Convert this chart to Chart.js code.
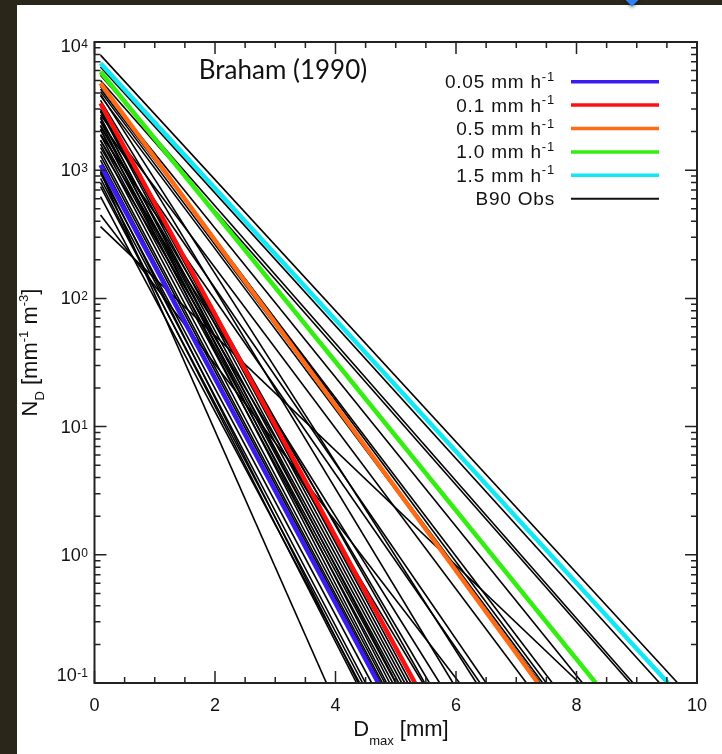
<!DOCTYPE html>
<html>
<head>
<meta charset="utf-8">
<script src="https://cdn.jsdelivr.net/npm/chart.js@4.4.2/dist/chart.umd.min.js"></script>
<style>
  html, body { margin: 0; padding: 0; background: #2a2619; }
  body { width: 722px; height: 754px; position: relative; overflow: hidden; }
  #panel { position: absolute; left: 17px; top: 5px; width: 705px; height: 749px; background: #fff; }
  #pin { position: absolute; left: 626px; top: -8px; width: 12px; height: 12px; background: #2f7ff0;
         transform: rotate(45deg); box-shadow: 1px 1px 3px rgba(0,0,0,0.5); }
</style>
</head>
<body>
<div id="panel"><canvas id="chart" width="705" height="749"></canvas></div>
<div id="pin"></div>
<script>
// model curves (rain rate), N at D = 0.1 mm and D where N falls to 0.1
const rateLabels = ['0.05', '0.1', '0.5', '1.0', '1.5'];
const rateColors = ['#3a1cf0', '#ff1010', '#ff6a14', '#33ee11', '#11e8f4'];
const rateN0 = [1100, 3330, 4770, 5860, 6820];
const rateDend = [4.71, 5.32, 7.36, 8.32, 9.52];

// Braham (1990) observed fits
const obsN0 = [7900, 6400, 5500, 5000, 4500, 4300, 4600, 4100, 3800, 2700,
               2400, 1900, 363, 447, 2900, 3000, 3200, 2860, 2540, 2250,
               2060, 1880, 1720, 2400, 2100, 1600, 1400, 1300, 1200, 946,
               865, 745, 622, 1000, 970, 2200, 1500, 800, 3500, 3900,
               1700, 2600];
const obsDend = [9.68, 9.38, 8.94, 8.89, 8.10, 7.60, 7.50, 7.44, 7.40, 7.17,
                 6.50, 6.40, 8.05, 6.06, 5.48, 5.30, 5.25, 5.20, 5.15, 5.10,
                 5.05, 5.00, 4.95, 4.90, 4.85, 4.82, 4.78, 4.75, 4.70, 4.60,
                 4.50, 4.45, 4.40, 4.38, 3.85, 5.56, 5.45, 4.35, 5.95, 6.34,
                 5.73, 5.01];

const dStart = 0.1;
const nFloor = 0.1;
const xTicks = [0, 2, 4, 6, 8, 10];
const yDecades = [-1, 0, 1, 2, 3, 4];

const SANS = '"Liberation Sans", Arial, sans-serif';

const datasets = [];
rateLabels.forEach((r, i) => {
  datasets.push({
    label: r + ' mm h-1',
    data: [{ x: dStart, y: rateN0[i] }, { x: rateDend[i], y: nFloor }],
    borderColor: rateColors[i],
    borderWidth: 4.5,
    order: 0
  });
});
obsN0.forEach((n, i) => {
  datasets.push({
    label: 'B90 Obs',
    data: [{ x: dStart, y: n }, { x: obsDend[i], y: nFloor }],
    borderColor: '#000',
    borderWidth: 1.6,
    order: 1
  });
});

// draw a run of text pieces (normal / sub / sup) starting at x, baseline y
function drawRuns(ctx, runs, x, y, align) {
  let total = 0;
  runs.forEach(r => { ctx.font = r.size + 'px ' + SANS; r.w = ctx.measureText(r.t).width; total += r.w; });
  let cx = align === 'center' ? x - total / 2 : (align === 'right' ? x - total : x);
  ctx.textAlign = 'left';
  ctx.textBaseline = 'alphabetic';
  runs.forEach(r => {
    ctx.font = r.size + 'px ' + SANS;
    ctx.fillText(r.t, cx, y + (r.dy || 0));
    cx += r.w;
  });
}

const decorations = {
  id: 'decorations',
  afterDraw(chart) {
    const ctx = chart.ctx;
    const { left, right, top, bottom } = chart.chartArea;
    const xs = chart.scales.x;
    const ys = chart.scales.y;
    ctx.save();
    ctx.strokeStyle = '#222';
    ctx.fillStyle = '#111';

    // frame
    ctx.lineWidth = 2;
    ctx.strokeRect(left, top, right - left, bottom - top);

    // inward ticks
    ctx.lineWidth = 1.5;
    ctx.beginPath();
    for (let v = 0; v <= 10.001; v += 0.5) {
      const px = xs.getPixelForValue(v);
      const len = xTicks.includes(v) ? 12 : 6;
      ctx.moveTo(px, bottom); ctx.lineTo(px, bottom - len);
      ctx.moveTo(px, top); ctx.lineTo(px, top + len);
    }
    yDecades.forEach(k => {
      const base = Math.pow(10, k);
      const py = ys.getPixelForValue(base);
      ctx.moveTo(left, py); ctx.lineTo(left + 12, py);
      ctx.moveTo(right, py); ctx.lineTo(right - 12, py);
      if (k < 4) {
        for (let m = 2; m <= 9; m++) {
          const pm = ys.getPixelForValue(m * base);
          ctx.moveTo(left, pm); ctx.lineTo(left + 6, pm);
          ctx.moveTo(right, pm); ctx.lineTo(right - 6, pm);
        }
      }
    });
    ctx.stroke();

    // y tick labels 10^k
    yDecades.forEach(k => {
      const py = ys.getPixelForValue(Math.pow(10, k));
      const cy = Math.min(Math.max(py + 1, top + 5), bottom - 7);
      ctx.font = '12px ' + SANS;
      const exp = String(k);
      const ew = ctx.measureText(exp).width;
      ctx.textAlign = 'right';
      ctx.textBaseline = 'alphabetic';
      ctx.fillText(exp, 71, cy + 1);
      ctx.font = '18px ' + SANS;
      ctx.textBaseline = 'middle';
      ctx.fillText('10', 71 - ew - 0.5, cy);
    });

    // x title
    drawRuns(ctx, [
      { t: 'D', size: 22 },
      { t: 'max', size: 13, dy: 9 },
      { t: ' [mm]', size: 22 }
    ], 384, 731, 'center');

    // y title
    ctx.save();
    ctx.translate(19.7, 347.5);
    ctx.rotate(-Math.PI / 2);
    drawRuns(ctx, [
      { t: 'N', size: 22 },
      { t: 'D', size: 13, dy: 7 },
      { t: ' [mm', size: 22 },
      { t: '-1', size: 13, dy: -9 },
      { t: ' m', size: 22 },
      { t: '-3', size: 13, dy: -9 },
      { t: ']', size: 22 }
    ], 0, 0, 'center');
    ctx.restore();

    // plot title
    ctx.font = '26px Lato, "Open Sans", sans-serif';
    ctx.textAlign = 'center';
    ctx.textBaseline = 'alphabetic';
    ctx.fillText('Braham (1990)', 266, 74);

    // legend
    const rows = rateLabels.map((r, i) => ({ txt: r + ' mm h', sup: '-1', color: rateColors[i], w: 3.5 }));
    rows.push({ txt: 'B90 Obs', sup: '', color: '#111', w: 2 });
    ctx.letterSpacing = '0.8px';
    rows.forEach((row, i) => {
      const cy = 76.7 + i * 23.4;
      ctx.font = '13px ' + SANS;
      const sw = row.sup ? ctx.measureText(row.sup).width : 0;
      ctx.textAlign = 'right';
      ctx.textBaseline = 'alphabetic';
      if (row.sup) ctx.fillText(row.sup, 538, cy - 1);
      ctx.font = '19px ' + SANS;
      ctx.fillText(row.txt, 538 - sw, cy + 6.5);
      ctx.strokeStyle = row.color;
      ctx.lineWidth = row.w;
      ctx.beginPath();
      ctx.moveTo(554, cy); ctx.lineTo(642, cy);
      ctx.stroke();
    });
    ctx.letterSpacing = '0px';
    ctx.restore();
  }
};

new Chart(document.getElementById('chart'), {
  type: 'line',
  data: { datasets },
  options: {
    responsive: false,
    animation: false,
    layout: { padding: { top: 37, right: 25, left: 0, bottom: 0 } },
    elements: { point: { radius: 0 }, line: { tension: 0, borderCapStyle: 'butt' } },
    plugins: { legend: { display: false }, tooltip: { enabled: false } },
    scales: {
      x: {
        type: 'linear', min: 0, max: 10,
        grid: { display: false, drawTicks: false },
        border: { display: false },
        ticks: { stepSize: 2, color: '#111', font: { family: SANS, size: 18 }, padding: 12, maxRotation: 0 },
        afterFit: (s) => { s.height = 71; }
      },
      y: {
        type: 'logarithmic', min: 0.1, max: 10000,
        grid: { display: false, drawTicks: false },
        border: { display: false },
        ticks: { display: false },
        afterFit: (s) => { s.width = 77.5; }
      }
    }
  },
  plugins: [decorations]
});
</script>
</body>
</html>
